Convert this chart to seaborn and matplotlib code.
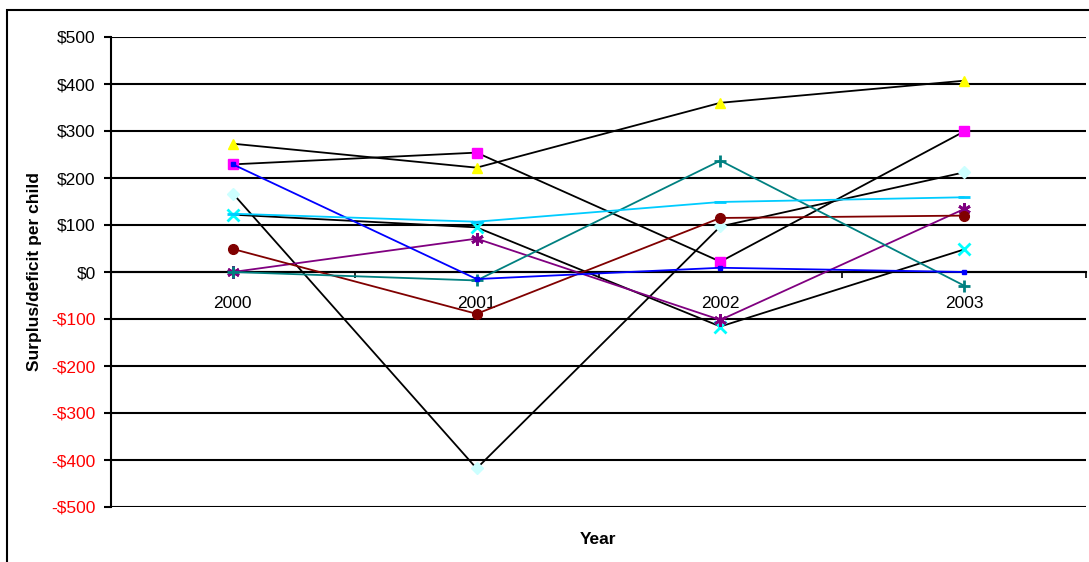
import matplotlib
matplotlib.use("Agg")
import matplotlib.pyplot as plt
import seaborn as sns
import pandas as pd
from matplotlib.patches import Rectangle
from matplotlib.ticker import FixedLocator, NullFormatter

sns.set_style("white")
plt.rcParams["font.family"] = ["Liberation Sans", "DejaVu Sans"]
plt.rcParams["text.color"] = "black"
plt.rcParams["xtick.color"] = "black"
plt.rcParams["ytick.color"] = "black"
plt.rcParams["axes.labelcolor"] = "black"

# Categories and per-series surplus/deficit per child
years = ["2000", "2001", "2002", "2003"]
series_triangle = [273, 222, 360, 407]
series_square = [229, 254, 22, 299]
series_diamond = [167, -418, 97, 212]
series_cross = [122, 95, -116, 48]
series_star = [0, 71, -102, 134]
series_circle = [49, -89, 115, 120]
series_plus = [0, -18, 237, -29]
series_blue = [229, -15, 9, 0]
series_sky = [124, 107, 149, 159]
y_ticks = list(range(-500, 501, 100))

# line colour, marker, marker face, marker edge, marker size
styles = [
    (series_triangle, "black", "^", "#FFFF00", "#FFFF00", 7),
    (series_square, "black", "s", "#FF00FF", "#FF00FF", 7),
    (series_diamond, "black", "D", "#CCFFFF", "#CCFFFF", 6),
    (series_cross, "black", "x", "#00FFFF", "#00FFFF", 8),
    (series_star, "#800080", (6, 2, 0), "#800080", "#800080", 9),
    (series_circle, "#800000", "o", "#800000", "#800000", 7),
    (series_plus, "#008080", "+", "#008080", "#008080", 9),
    (series_blue, "#0000FF", "s", "#0000FF", "#0000FF", 3),
    (series_sky, "#00CCFF", "_", "#00CCFF", "#00CCFF", 8),
]

fig = plt.figure(figsize=(10.89, 5.62), dpi=100)
ax = fig.add_axes([111 / 1089, 1 - 507 / 562, (1086 - 111) / 1089, (507 - 37) / 562])

# outer chart frame
fig.patches.append(Rectangle((7 / 1089, -0.05), 1.2, 1 - 10 / 562 + 0.05,
                             transform=fig.transFigure, fill=False,
                             edgecolor="black", linewidth=1.5, zorder=0))

# horizontal gridlines
for v in y_ticks:
    ax.axhline(v, color="black", linewidth=1.5, zorder=1)

for i, (vals, lc, mk, mfc, mec, ms) in enumerate(styles):
    df = pd.DataFrame({"pos": range(len(years)), "value": vals})
    thick = mk in ("x", "+", "_") or isinstance(mk, tuple)
    sns.lineplot(data=df, x="pos", y="value", ax=ax, color=lc, linewidth=1.3,
                 marker=mk, markersize=ms, markerfacecolor=mfc,
                 markeredgecolor=mec, markeredgewidth=2 if thick else 1,
                 zorder=3 + i, legend=False)

ax.set_xlim(-0.5, 3.5)
ax.set_ylim(-500, 500)

# y axis: dollar labels, negatives in red
ax.set_yticks(y_ticks)
ax.set_yticklabels([f"-${abs(v)}" if v < 0 else f"${v}" for v in y_ticks], fontsize=12.5)
for lab, v in zip(ax.get_yticklabels(), y_ticks):
    lab.set_color("red" if v < 0 else "black")
ax.tick_params(axis="y", direction="out", length=5, width=1.5, color="black", pad=6, left=True)

# category axis drawn along zero
ax.spines["bottom"].set_position(("data", 0))
ax.spines["bottom"].set_linewidth(1.5)
ax.xaxis.set_major_locator(FixedLocator([-0.5, 0.5, 1.5, 2.5, 3.5]))
ax.xaxis.set_major_formatter(NullFormatter())
ax.xaxis.set_minor_locator(FixedLocator(range(len(years))))
ax.set_xticks(range(len(years)), labels=years, minor=True, fontsize=12.5)
for lab in ax.get_xticklabels(minor=True):
    lab.set_color("black")
ax.tick_params(axis="x", which="major", direction="out", length=4, width=1.2,
               color="black", bottom=True)
ax.tick_params(axis="x", which="minor", length=0, pad=17)

for s in ("top", "right"):
    ax.spines[s].set_visible(False)
ax.spines["left"].set_linewidth(1.5)
ax.spines["left"].set_color("black")
ax.spines["bottom"].set_color("black")

ax.set_xlabel("")
ax.set_ylabel("")
fig.text(35 / 1089, 1 - 272 / 562, "Surplus/deficit per child", rotation=90,
         ha="center", va="center", fontsize=12.5, fontweight="bold", color="black")
fig.text(598 / 1089, 1 - 540 / 562, "Year", ha="center", va="center",
         fontsize=12.5, fontweight="bold", color="black")

fig.savefig("out.png", dpi=100)
